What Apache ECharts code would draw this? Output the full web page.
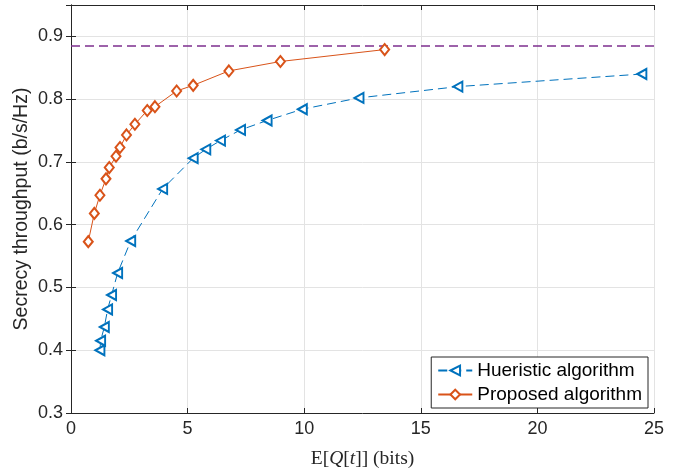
<!DOCTYPE html>
<html><head><meta charset="utf-8">
<script src="https://cdn.jsdelivr.net/npm/echarts@6/dist/echarts.min.js"></script>
<style>html,body{margin:0;padding:0;background:#fff}#c{width:679px;height:474px}</style>
</head><body><div id="c"></div>
<script>
const heurX = [1.24, 1.27, 1.43, 1.57, 1.74, 2.0, 2.56, 3.93, 5.24, 5.78, 6.41, 7.27, 8.41, 9.92, 12.35, 16.59, 24.48];
const heurY = [0.400, 0.415, 0.437, 0.465, 0.488, 0.523, 0.574, 0.657, 0.706, 0.720, 0.734, 0.751, 0.766, 0.784, 0.802, 0.820, 0.840];
const propX = [0.74, 1.0, 1.24, 1.5, 1.64, 1.93, 2.1, 2.38, 2.74, 3.27, 3.6, 4.53, 5.24, 6.77, 8.98, 13.45];
const propY = [0.573, 0.618, 0.647, 0.673, 0.691, 0.709, 0.723, 0.743, 0.760, 0.782, 0.788, 0.813, 0.822, 0.845, 0.860, 0.879];
const boundX = [0, 25];
const boundY = [0.8845, 0.8845];
const xTicks = [0, 5, 10, 15, 20, 25];
const yTicks = [0.3, 0.4, 0.5, 0.6, 0.7, 0.8, 0.9];
const seriesNames = ['Hueristic algorithm', 'Proposed algorithm'];

const zip = (a, b) => a.map((v, i) => [v, b[i]]);
const axisCol = '#262626';
const chart = echarts.init(document.getElementById('c'));
chart.setOption({
  animation: false,
  backgroundColor: '#fff',
  grid: {left: 71, top: 5, width: 583, height: 411, containLabel: false},
  xAxis: [{
    type: 'value', min: xTicks[0], max: xTicks[xTicks.length - 1], interval: 5,
    axisLine: {onZero: false, lineStyle: {color: axisCol, width: 1}},
    axisTick: {inside: true, length: 5, lineStyle: {color: axisCol}},
    axisLabel: {color: axisCol, fontSize: 18, fontFamily: 'Liberation Sans', margin: 7},
    splitLine: {show: true, lineStyle: {color: '#e3e3e3', width: 1}},
    name: '{n|E[}{i|Q}{n|[}{i|t}{n|]] (bits)}',
    nameLocation: 'middle', nameGap: 36,
    nameTextStyle: {rich: {
      n: {fontFamily: 'Liberation Serif', fontSize: 19.5, color: axisCol},
      i: {fontFamily: 'Liberation Serif', fontStyle: 'italic', fontSize: 19.5, color: axisCol}
    }}
  }, {
    type: 'value', position: 'top', min: xTicks[0], max: xTicks[xTicks.length - 1], interval: 5,
    axisLine: {show: true, lineStyle: {color: axisCol, width: 1}},
    axisTick: {inside: true, length: 5, lineStyle: {color: axisCol}},
    axisLabel: {show: false}, splitLine: {show: false}
  }],
  yAxis: [{
    type: 'value', min: 0.3, max: 0.95, interval: 0.1,
    axisLine: {onZero: false, lineStyle: {color: axisCol, width: 1}},
    axisTick: {inside: true, length: 5, lineStyle: {color: axisCol}},
    axisLabel: {color: axisCol, fontSize: 18, fontFamily: 'Liberation Sans', margin: 8,
      showMaxLabel: false,
      formatter: v => yTicks.some(t => Math.abs(t - v) < 1e-6) ? v.toFixed(1) : ''},
    splitLine: {show: true, lineStyle: {color: '#e3e3e3', width: 1}},
    name: 'Secrecy throughput (b/s/Hz)', nameLocation: 'middle', nameGap: 39,
    nameMoveOverlap: false,
    nameTextStyle: {fontFamily: 'Liberation Sans', fontSize: 19.5, color: axisCol}
  }, {
    type: 'value', position: 'right', min: 0.3, max: 0.95, interval: 0.1,
    axisLine: {show: true, lineStyle: {color: axisCol, width: 1}},
    axisTick: {inside: true, length: 5, lineStyle: {color: axisCol}},
    axisLabel: {show: false}, splitLine: {show: false}
  }],
  legend: {
    data: seriesNames,
    orient: 'vertical', right: 31, bottom: 66,
    backgroundColor: '#fff', borderColor: '#262626', borderWidth: 1, borderRadius: 0,
    padding: [4, 6, 4, 6], itemGap: 5, itemWidth: 34, itemHeight: 12,
    textStyle: {fontFamily: 'Liberation Sans', fontSize: 19, color: '#000'}
  },
  series: [{
    name: 'bound', type: 'line', data: zip(boundX, boundY), symbol: 'none',
    lineStyle: {color: '#7E2F8E', width: 1.5, type: [9, 5]}, z: 1, silent: true
  }, {
    name: seriesNames[0], type: 'line', data: zip(heurX, heurY),
    symbol: 'emptyTriangle', symbolSize: [10, 9], symbolRotate: 90,
    itemStyle: {color: '#0072BD', borderWidth: 1},
    lineStyle: {color: '#0072BD', width: 1, type: [9, 5]}
  }, {
    name: seriesNames[1], type: 'line', data: zip(propX, propY),
    symbol: 'emptyDiamond', symbolSize: [9, 11],
    itemStyle: {color: '#D95319', borderWidth: 1},
    lineStyle: {color: '#D95319', width: 1}
  }]
});
</script></body></html>
